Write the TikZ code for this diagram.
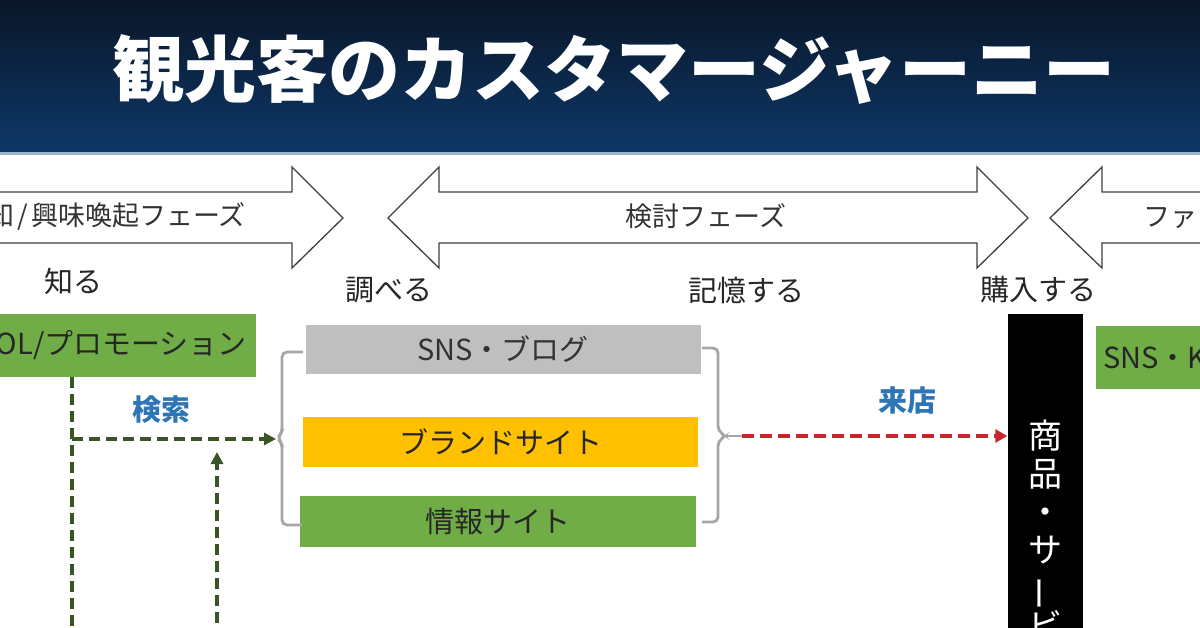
\documentclass[tikz,border=0pt]{standalone}
\usepackage{fontspec}
\setmainfont{Noto Sans CJK JP}
\usetikzlibrary{arrows.meta}

\definecolor{navytop}{HTML}{0A1628}
\definecolor{navybot}{HTML}{0D3868}
\definecolor{navyedge}{HTML}{9DB4CC}
\definecolor{leafgreen}{HTML}{70AD47}
\definecolor{gold}{HTML}{FFC000}
\definecolor{snsgray}{HTML}{BFBFBF}
\definecolor{pathgreen}{HTML}{375623}
\definecolor{tagblue}{HTML}{2E75B6}
\definecolor{visitred}{HTML}{C9252C}
\definecolor{bracegray}{HTML}{A6A6A6}

\begin{document}
\begin{tikzpicture}[x=1pt,y=-1pt,
    phase/.style={draw=black!75,line width=1.3pt,fill=white,line join=miter},
    phasetext/.style={text=black!80,font=\fontsize{27}{27}\selectfont,inner sep=0pt},
    stage/.style={text=black!85,font=\fontsize{29}{29}\selectfont,inner sep=0pt},
    boxitem/.style={inner sep=0pt,font=\fontsize{29}{29}\selectfont},
    tag/.style={text=tagblue,font=\fontsize{29}{29}\selectfont\bfseries,inner sep=0pt},
    brace/.style={draw=bracegray,line width=2.8pt,rounded corners=5pt},
    greenflow/.style={draw=pathgreen,line width=3.6pt,dash pattern=on 11pt off 6pt},
    redflow/.style={draw=visitred,line width=4.4pt,dash pattern=on 12pt off 6pt}]
  \useasboundingbox (0,0) rectangle (1200,628);
  \clip (0,0) rectangle (1200,628);

  % header band
  \shade[top color=navytop,bottom color=navybot] (0,0) rectangle (1200,152);
  \fill[navyedge] (0,152) rectangle (1200,155);
  \node[text=white,font=\fontsize{72}{72}\selectfont\bfseries] (title) at (614,70) {観光客のカスタマージャーニー};

  % phase arrows
  \draw[phase] (-20,192) -- (292,192) -- (292,167) -- (343,218) -- (292,268) -- (292,243) -- (-20,243) -- cycle;
  \draw[phase] (388,218) -- (439,167) -- (439,192) -- (977,192) -- (977,167) -- (1028,218)
    -- (977,268) -- (977,243) -- (439,243) -- (439,268) -- cycle;
  \draw[phase] (1050,218) -- (1102,167) -- (1102,192) -- (1230,192) -- (1230,243) -- (1102,243) -- (1102,268) -- cycle;
  \node[phasetext,anchor=east] (aware) at (246,216) {認知\hspace{3pt}/\hspace{3pt}興味喚起フェーズ};
  \node[phasetext] (consider) at (706,216) {検討フェーズ};
  \node[phasetext,anchor=west] (fan) at (1143,216) {ファン化フェーズ};

  % stages
  \node[stage] (know) at (73,281) {知る};
  \node[stage] (search) at (389,290) {調べる};
  \node[stage] (remember) at (746,290) {記憶する};
  \node[stage] (buy) at (1038,290) {購入する};

  % boxes
  \node[boxitem,fill=leafgreen,text=black!85,anchor=east,text width=300pt,align=right,
    inner xsep=9pt,minimum height=63pt] (kol) at (256,345.5) {KOL/プロモーション};
  \node[boxitem,fill=snsgray,text=black!80,minimum width=395pt,minimum height=49pt] (sns) at (503,349.5) {SNS・ブログ};
  \node[boxitem,fill=gold,text=black!85,minimum width=395pt,minimum height=50pt] (brand) at (500.5,442) {ブランドサイト};
  \node[boxitem,fill=leafgreen,text=black!85,minimum width=396pt,minimum height=51pt] (info) at (498,521.5) {情報サイト};
  \node[boxitem,fill=leafgreen,text=black!85,anchor=west,text width=190pt,align=left,
    inner xsep=7pt,minimum height=63pt] (snskol) at (1096,358) {SNS・KOL};
  \node[fill=black,anchor=north,minimum width=75pt,minimum height=380pt,inner sep=0pt] (goods) at (1045,314) {};
  \node[text=white,anchor=north,align=center,inner sep=0pt,
    font=\fontsize{34}{38}\selectfont] (goodstext) at (1045,420)
    {商\\品\\・\\サ\\\rotatebox[origin=c]{90}{ー}\\ビ\\ス};

  % brackets
  \draw[brace] (303,352) -- (282,352) -- (282,433) -- (277,438) -- (282,443) -- (282,525) -- (302,525);
  \draw[brace] (702,348) -- (718,348) -- (718,431) -- (726,436) -- (718,441) -- (718,522) -- (702,522);
  \coordinate (lbr) at (276,439);
  \coordinate (rbr) at (742,436);
  \draw[bracegray,line width=2.8pt] (724,436) -- (rbr);

  % flows
  \coordinate (trunk) at (72,640);
  \coordinate (feed) at (217,640);
  \coordinate (feedtip) at (217,452);
  \node[tag] (find) at (161,410) {検索};
  \node[tag] (visit) at (907,400) {来店};
  \draw[greenflow] (kol.south -| trunk) -- (trunk);
  \draw[greenflow,-{Triangle[length=12pt,width=12pt]}] (lbr -| trunk) -- (lbr);
  \draw[greenflow,-{Triangle[length=12pt,width=12pt]}] (feed) -- (feedtip);
  \draw[redflow,-{Triangle[length=12pt,width=13pt]}] (rbr) -- (rbr -| goods.west);
\end{tikzpicture}
\end{document}
